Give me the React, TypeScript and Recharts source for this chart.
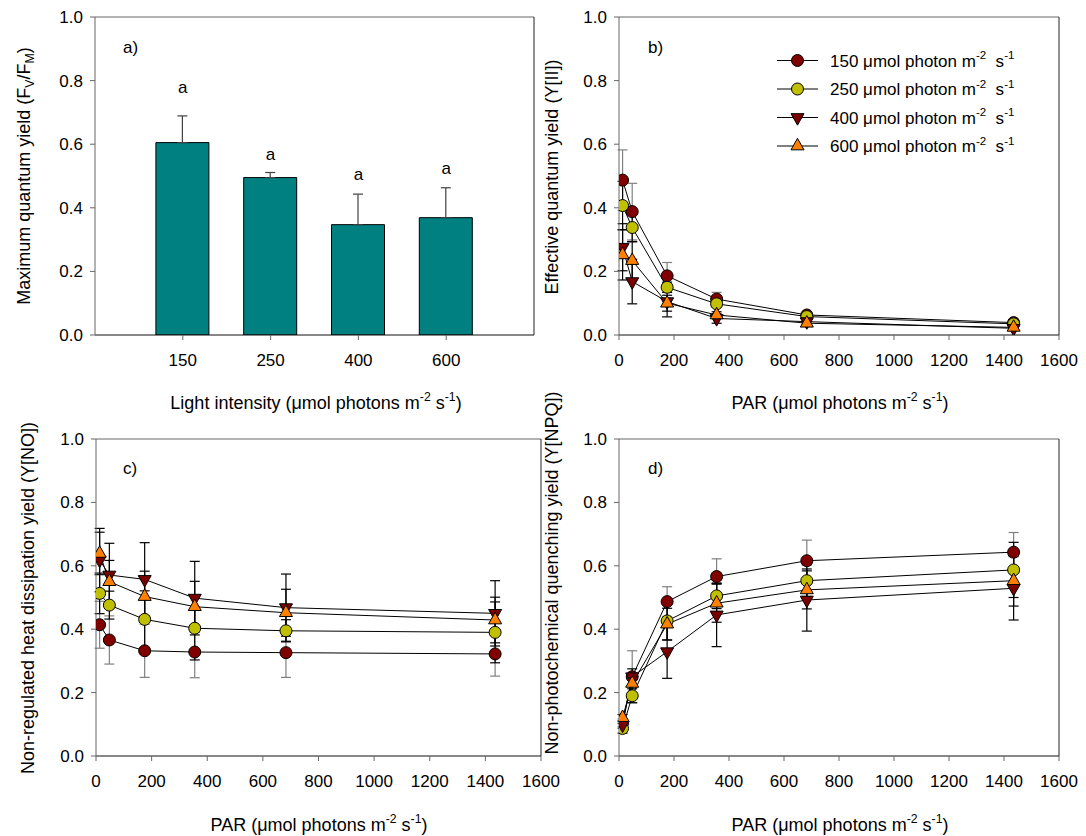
import React from 'react';
import { ComposedChart, Bar, Line, Scatter, XAxis, YAxis, ErrorBar, ReferenceLine } from 'recharts';

const FONT = '"Liberation Sans", Arial, Helvetica, sans-serif';

// ---------- Panel a: maximum quantum yield (Fv/Fm) ----------
const lightCategories = ['150', '250', '400', '600'];
const fvfmMean = [0.605, 0.495, 0.347, 0.369];
const fvfmSE = [0.084, 0.016, 0.096, 0.094];
const fvfmLetters = ['a', 'a', 'a', 'a'];
const fvfmLetterY = [0.775, 0.566, 0.501, 0.519];

// ---------- shared ----------
const parLevels = [13, 48, 175, 355, 683, 1435];
const parTicks = [0, 200, 400, 600, 800, 1000, 1200, 1400, 1600];
const yieldTicks = [0, 0.2, 0.4, 0.6, 0.8, 1.0];
const seriesLabels = ['150', '250', '400', '600'];

// ---------- Panel b: Y(II) ----------
const yII_150 = [0.487, 0.388, 0.186, 0.113, 0.063, 0.039];
const yII_150_se = [0.095, 0.089, 0.042, 0.021, 0.006, 0.005];
const yII_250 = [0.407, 0.338, 0.150, 0.098, 0.058, 0.035];
const yII_250_se = [0.076, 0.045, 0.016, 0.010, 0.005, 0.004];
const yII_400 = [0.276, 0.168, 0.105, 0.052, 0.042, 0.021];
const yII_400_se = [0.074, 0.070, 0.048, 0.015, 0.006, 0.004];
const yII_600 = [0.252, 0.234, 0.100, 0.063, 0.037, 0.024];
const yII_600_se = [0.079, 0.060, 0.025, 0.010, 0.005, 0.004];

// ---------- Panel c: Y(NO) ----------
const yNO_150 = [0.414, 0.366, 0.332, 0.328, 0.326, 0.322];
const yNO_150_se = [0.074, 0.076, 0.084, 0.081, 0.078, 0.070];
const yNO_250 = [0.513, 0.476, 0.431, 0.403, 0.395, 0.390];
const yNO_250_se = [0.064, 0.044, 0.090, 0.100, 0.035, 0.096];
const yNO_400 = [0.618, 0.571, 0.557, 0.498, 0.468, 0.450];
const yNO_400_se = [0.100, 0.100, 0.116, 0.116, 0.106, 0.103];
const yNO_600 = [0.639, 0.550, 0.503, 0.471, 0.452, 0.429];
const yNO_600_se = [0.067, 0.067, 0.080, 0.080, 0.074, 0.072];

// ---------- Panel d: Y(NPQ) ----------
const yNPQ_150 = [0.105, 0.250, 0.487, 0.566, 0.616, 0.643];
const yNPQ_150_se = [0.012, 0.082, 0.047, 0.056, 0.065, 0.062];
const yNPQ_250 = [0.087, 0.190, 0.426, 0.505, 0.553, 0.587];
const yNPQ_250_se = [0.015, 0.022, 0.060, 0.040, 0.050, 0.087];
const yNPQ_400 = [0.098, 0.250, 0.329, 0.445, 0.492, 0.529];
const yNPQ_400_se = [0.010, 0.025, 0.084, 0.100, 0.098, 0.100];
const yNPQ_600 = [0.121, 0.229, 0.416, 0.482, 0.524, 0.553];
const yNPQ_600_se = [0.010, 0.030, 0.050, 0.060, 0.060, 0.080];

// ---------- styles ----------
const seriesFill = ['#800000', '#c0c000', '#7a0000', '#ff8000'];
const seriesShape = ['circle', 'circle', 'down', 'up'];
const seriesErrColor = ['#808080', '#000000', '#000000', '#000000'];
const TICK_SIZE = 17;
const TITLE_SIZE = 18;

type Piece = { t: string; s?: 'sup' | 'sub' };

function RichText({ x, y, pieces, size, anchor = 'middle', rotate = false }: any) {
  const small = size * 0.68;
  let cur = 0;
  const spans = pieces.map((p: Piece, i: number) => {
    const target = p.s === 'sup' ? -size * 0.42 : p.s === 'sub' ? size * 0.22 : 0;
    const dy = target - cur;
    cur = target;
    return (
      <tspan key={i} dy={dy} fontSize={p.s ? small : size}>
        {p.t}
      </tspan>
    );
  });
  return (
    <text
      x={x}
      y={y}
      textAnchor={anchor}
      fontFamily={FONT}
      fontSize={size}
      fill="#000"
      style={{ whiteSpace: 'pre' }}
      transform={rotate ? `rotate(-90 ${x} ${y})` : undefined}
    >
      {spans}
    </text>
  );
}

function Marker({ shape, cx, cy, fill }: any) {
  if (shape === 'circle') {
    return <circle cx={cx} cy={cy} r={6} fill={fill} stroke="#000" strokeWidth={1} />;
  }
  const w = 6.5;
  const h = 11.5;
  if (shape === 'down') {
    return (
      <polygon
        points={`${cx - w},${cy - h / 3} ${cx + w},${cy - h / 3} ${cx},${cy + (2 * h) / 3}`}
        fill={fill}
        stroke="#000"
        strokeWidth={1}
      />
    );
  }
  return (
    <polygon
      points={`${cx - w},${cy + h / 3} ${cx + w},${cy + h / 3} ${cx},${cy - (2 * h) / 3}`}
      fill={fill}
      stroke="#000"
      strokeWidth={1}
    />
  );
}

const dotRenderer = (k: number) => (props: any) => {
  const { cx, cy, index } = props;
  if (cx == null || cy == null) return <g key={`n${k}-${index}`} />;
  return <Marker key={`m${k}-${index}`} shape={seriesShape[k]} fill={seriesFill[k]} cx={cx} cy={cy} />;
};

const tickStyle = { fontSize: TICK_SIZE, fill: '#000', fontFamily: FONT };

function BarPanel() {
  const data = lightCategories.map((c, i) => ({
    pos: i + 1,
    mean: fvfmMean[i],
    se: [0, fvfmSE[i]],
    sig: fvfmLetterY[i],
    letter: fvfmLetters[i],
  }));
  const renderLetter = (p: any) => (
    <text x={p.cx} y={p.cy} dy={4.5} textAnchor="middle" fontSize={17} fontFamily={FONT} fill="#000">
      {p.payload.letter}
    </text>
  );
  return (
    <div style={{ position: 'absolute', left: 0, top: 0 }}>
      <ComposedChart width={560} height={418} data={data} margin={{ top: 17, right: 26, bottom: 53, left: 35 }}>
        <XAxis
          dataKey="pos"
          type="number"
          domain={[0, 5]}
          ticks={[1, 2, 3, 4]}
          interval={0}
          allowDataOverflow
          tickFormatter={(v: number) => lightCategories[v - 1]}
          height={30}
          tickSize={5}
          tickMargin={14}
          tick={tickStyle}
          axisLine={{ stroke: '#111' }}
          tickLine={{ stroke: '#666' }}
        />
        <YAxis
          type="number"
          domain={[0, 1]}
          allowDataOverflow
          ticks={yieldTicks}
          interval={0}
          tickFormatter={(v: number) => v.toFixed(1)}
          width={60}
          tickSize={5}
          tickMargin={7}
          tick={tickStyle}
          axisLine={{ stroke: '#666' }}
          tickLine={{ stroke: '#666' }}
        />
        <ReferenceLine y={1} stroke="#666" />
        <ReferenceLine x={5} stroke="#222" />
        <Bar dataKey="mean" barSize={53} fill="#008080" stroke="#000" strokeWidth={1} isAnimationActive={false}>
          <ErrorBar dataKey="se" width={5} stroke="#404040" strokeWidth={1.2} />
        </Bar>
        <Scatter dataKey="sig" isAnimationActive={false} shape={renderLetter} />
      </ComposedChart>
    </div>
  );
}

function LinePanel({ left, top, width, margin, values, errors }: any) {
  const data = parLevels.map((p, i) => {
    const row: any = { par: p };
    seriesLabels.forEach((n, k) => {
      row['v' + n] = values[k][i];
      row['e' + n] = errors[k][i];
    });
    return row;
  });
  return (
    <div style={{ position: 'absolute', left, top }}>
      <ComposedChart width={width} height={418} data={data} margin={margin}>
        <XAxis
          dataKey="par"
          type="number"
          domain={[0, 1600]}
          allowDataOverflow
          ticks={parTicks}
          interval={0}
          height={30}
          tickSize={5}
          tickMargin={14}
          tick={tickStyle}
          axisLine={{ stroke: '#111' }}
          tickLine={{ stroke: '#666' }}
        />
        <YAxis
          type="number"
          domain={[0, 1]}
          allowDataOverflow
          ticks={yieldTicks}
          interval={0}
          tickFormatter={(v: number) => v.toFixed(1)}
          width={60}
          tickSize={5}
          tickMargin={7}
          tick={tickStyle}
          axisLine={{ stroke: '#666' }}
          tickLine={{ stroke: '#666' }}
        />
        <ReferenceLine y={1} stroke="#666" />
        <ReferenceLine x={1600} stroke="#222" />
        {seriesLabels.map((n, k) => (
          <Line
            key={n}
            dataKey={'v' + n}
            type="linear"
            stroke="#000"
            strokeWidth={1}
            dot={dotRenderer(k)}
            activeDot={false}
            isAnimationActive={false}
          >
            <ErrorBar dataKey={'e' + n} width={5} stroke={seriesErrColor[k]} strokeWidth={1.2} direction="y" />
          </Line>
        ))}
      </ComposedChart>
    </div>
  );
}

const parTitle: Piece[] = [
  { t: 'PAR (\u03BCmol photons m' },
  { t: '-2', s: 'sup' },
  { t: ' s' },
  { t: '-1', s: 'sup' },
  { t: ')' },
];
const lightTitle: Piece[] = [
  { t: 'Light intensity (\u03BCmol photons m' },
  { t: '-2', s: 'sup' },
  { t: ' s' },
  { t: '-1', s: 'sup' },
  { t: ')' },
];
const fvfmTitle: Piece[] = [
  { t: 'Maximum quantum yield (F' },
  { t: 'V', s: 'sub' },
  { t: '/F' },
  { t: 'M', s: 'sub' },
  { t: ')' },
];

function Overlay() {
  return (
    <svg
      width={1086}
      height={836}
      style={{ position: 'absolute', left: 0, top: 0, pointerEvents: 'none', overflow: 'visible' }}
    >
      {/* axis titles */}
      <RichText x={30} y={176} rotate size={TITLE_SIZE} pieces={fvfmTitle} />
      <RichText x={316} y={409} size={TITLE_SIZE} pieces={lightTitle} />
      <RichText x={558} y={177} rotate size={TITLE_SIZE} pieces={[{ t: 'Effective quantum yield (Y[II])' }]} />
      <RichText x={840} y={409} size={TITLE_SIZE} pieces={parTitle} />
      <RichText x={34} y={598} rotate size={TITLE_SIZE} pieces={[{ t: 'Non-regulated heat dissipation yield (Y[NO])' }]} />
      <RichText x={319} y={831} size={TITLE_SIZE} pieces={parTitle} />
      <RichText x={558} y={573} rotate size={TITLE_SIZE} pieces={[{ t: 'Non-photochemical quenching yield (Y[NPQ])' }]} />
      <RichText x={840} y={831} size={TITLE_SIZE} pieces={parTitle} />

      {/* panel letters */}
      <RichText x={123} y={53} anchor="start" size={17} pieces={[{ t: 'a)' }]} />
      <RichText x={648} y={53} anchor="start" size={17} pieces={[{ t: 'b)' }]} />
      <RichText x={123} y={474} anchor="start" size={17} pieces={[{ t: 'c)' }]} />
      <RichText x={648} y={474} anchor="start" size={17} pieces={[{ t: 'd)' }]} />

      {/* legend (panel b) */}
      {seriesLabels.map((s, k) => {
        const cy = 60.5 + k * 28.5;
        return (
          <g key={s}>
            <line x1={777} x2={818} y1={cy} y2={cy} stroke="#000" strokeWidth={1} />
            <Marker shape={seriesShape[k]} fill={seriesFill[k]} cx={797.5} cy={cy} />
            <RichText
              x={830}
              y={cy + 6}
              anchor="start"
              size={17}
              pieces={[{ t: `${s} \u03BCmol photon m` }, { t: '-2', s: 'sup' }, { t: '  s' }, { t: '-1', s: 'sup' }]}
            />
          </g>
        );
      })}
    </svg>
  );
}

export default function App() {
  return (
    <div style={{ position: 'absolute', left: 0, top: 0, width: 1086, height: 836, background: '#fff', fontFamily: FONT }}>
      <style>{`.recharts-surface { overflow: visible; }`}</style>
      <BarPanel />
      <LinePanel
        left={540}
        top={0}
        width={546}
        margin={{ top: 17, right: 27, bottom: 53, left: 19 }}
        values={[yII_150, yII_250, yII_400, yII_600]}
        errors={[yII_150_se, yII_250_se, yII_400_se, yII_600_se]}
      />
      <LinePanel
        left={0}
        top={418}
        width={560}
        margin={{ top: 21, right: 19, bottom: 50, left: 36 }}
        values={[yNO_150, yNO_250, yNO_400, yNO_600]}
        errors={[yNO_150_se, yNO_250_se, yNO_400_se, yNO_600_se]}
      />
      <LinePanel
        left={540}
        top={418}
        width={546}
        margin={{ top: 21, right: 27, bottom: 50, left: 19 }}
        values={[yNPQ_150, yNPQ_250, yNPQ_400, yNPQ_600]}
        errors={[yNPQ_150_se, yNPQ_250_se, yNPQ_400_se, yNPQ_600_se]}
      />
      <Overlay />
    </div>
  );
}
